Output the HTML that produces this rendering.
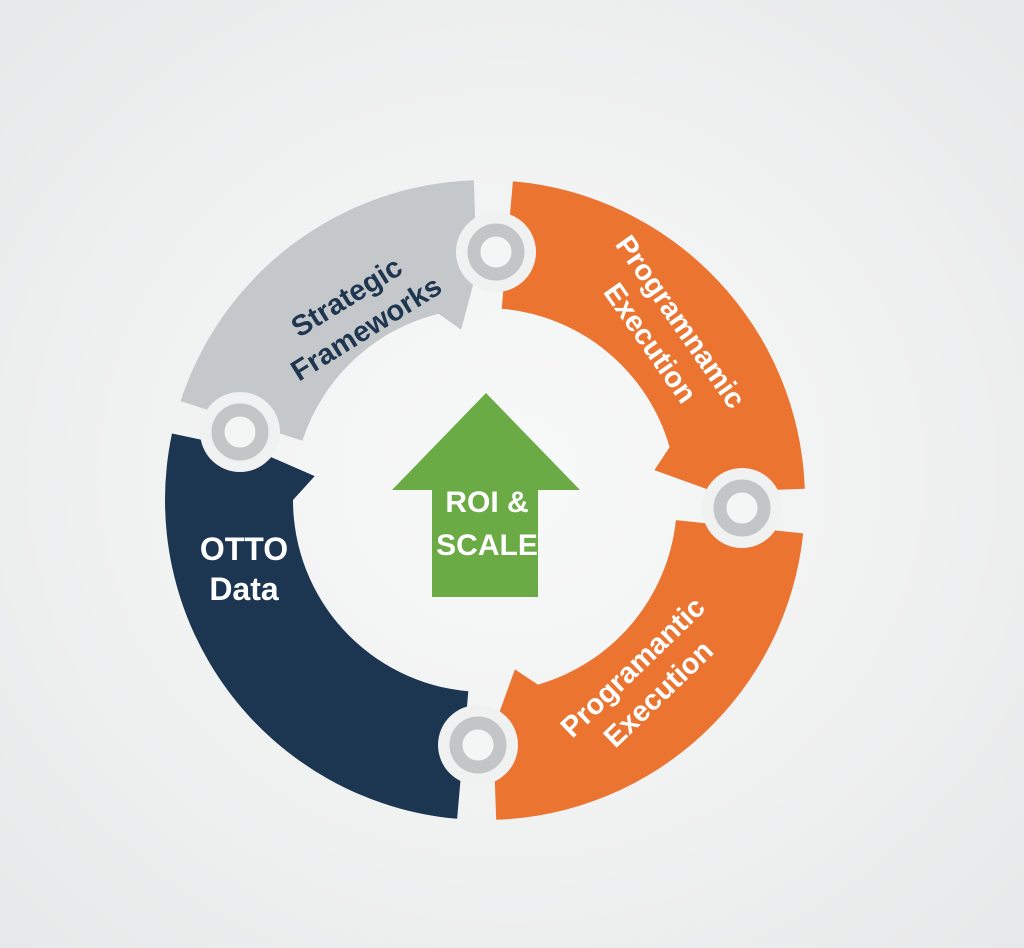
<!DOCTYPE html>
<html><head><meta charset="utf-8"><style>
html,body{margin:0;padding:0;}
body{width:1024px;height:948px;overflow:hidden;background:radial-gradient(ellipse at 50% 50%,#f8f9f9 0%,#f0f1f1 55%,#e7e8e9 100%);}
svg{display:block}
text{font-family:"Liberation Sans",sans-serif;font-weight:bold;}
</style></head><body>
<svg width="1024" height="948" viewBox="0 0 1024 948">
<path d="M457.1,818.8 A320,320 0 0 1 172,433.5 L260,452.2 L314.7,476.1 L293,500 A192,192 0 0 0 468.3,691.3 Z" fill="#1c3551"/>
<path d="M302.4,440.7 L180.6,401.1 A320,320 0 0 1 473.8,180.2 L477,270.1 L461.1,329.7 L438.6,313.7 A192,192 0 0 0 302.4,440.7 Z" fill="#c5c8cb"/>
<path d="M501.7,308.7 L512.9,181.2 A320,320 0 0 1 804.8,488.8 L714.9,492 L654.4,470.1 L669.6,447.1 A192,192 0 0 0 501.7,308.7 Z" fill="#ec7431"/>
<path d="M675.9,520.1 L803.2,533.4 A320,320 0 0 1 496.2,819.8 L493,729.9 L514.9,669.4 L537.9,684.6 A192,192 0 0 0 675.9,520.1 Z" fill="#ec7431"/>
<g>
<circle cx="496" cy="252" r="40" fill="#f0f1f1"/><circle cx="496" cy="252" r="22" fill="#f4f5f5" stroke="#c3c5c7" stroke-width="13"/>
<circle cx="742" cy="508" r="40" fill="#f0f1f1"/><circle cx="742" cy="508" r="22" fill="#f4f5f5" stroke="#c3c5c7" stroke-width="13"/>
<circle cx="478" cy="745" r="40" fill="#f0f1f1"/><circle cx="478" cy="745" r="22" fill="#f4f5f5" stroke="#c3c5c7" stroke-width="13"/>
<circle cx="240" cy="432" r="40" fill="#f0f1f1"/><circle cx="240" cy="432" r="22" fill="#f4f5f5" stroke="#c3c5c7" stroke-width="13"/>
</g>
<path d="M486,393 L580,490 L538,490 L538,597 L432,597 L432,490 L392,490 Z" fill="#6aab46"/>
<text x="487" y="512" font-size="30" fill="#fff" text-anchor="middle">ROI &amp;</text>
<text x="487" y="555" font-size="30" fill="#fff" text-anchor="middle">SCALE</text>
<text x="244" y="560" font-size="32" fill="#fff" text-anchor="middle">OTTO</text>
<text x="244" y="600" font-size="32" fill="#fff" text-anchor="middle">Data</text>
<g transform="translate(356,312) rotate(-32)">
<text x="0" y="-8" font-size="29" fill="#1f3650" text-anchor="middle">Strategic</text>
<text x="0" y="29" font-size="29" fill="#1f3650" text-anchor="middle">Frameworks</text>
</g>
<g transform="translate(666,332) rotate(55)">
<text x="0" y="-8" font-size="29" fill="#fff" text-anchor="middle">Programnamic</text>
<text x="0" y="29" font-size="29" fill="#fff" text-anchor="middle">Execution</text>
</g>
<g transform="translate(645,680) rotate(-44)">
<text x="0" y="-8" font-size="29" fill="#fff" text-anchor="middle">Programantic</text>
<text x="0" y="29" font-size="29" fill="#fff" text-anchor="middle">Execution</text>
</g>
</svg>
</body></html>
